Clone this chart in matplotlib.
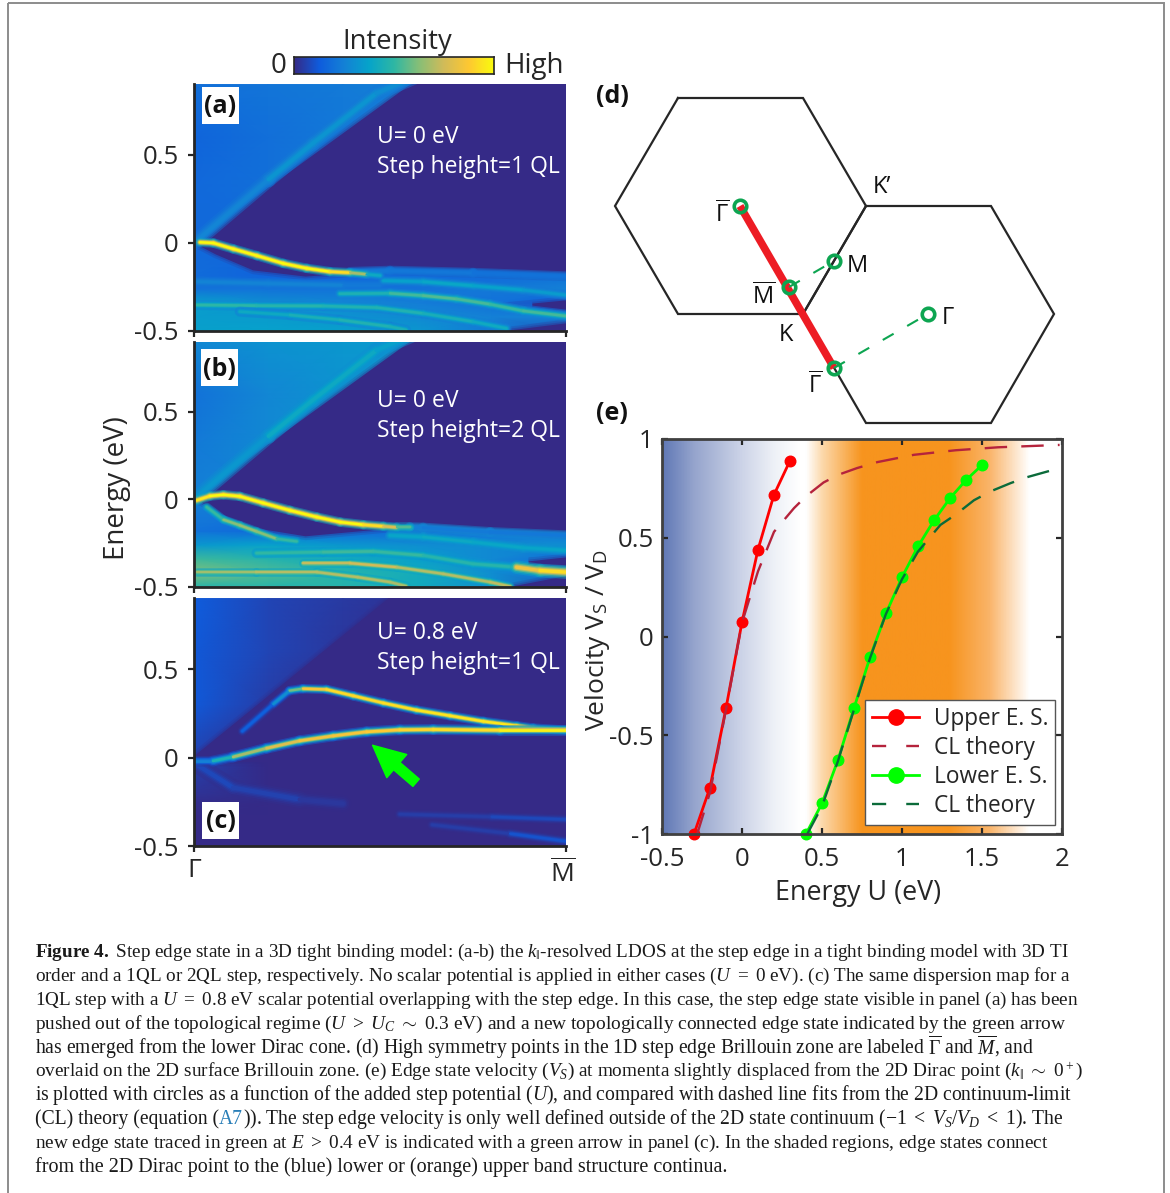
import numpy as np
import matplotlib
matplotlib.use('Agg')
import matplotlib.pyplot as plt
from matplotlib.collections import LineCollection
from matplotlib.colors import LinearSegmentedColormap
from matplotlib.lines import Line2D
from matplotlib.patches import Polygon, Rectangle

plt.rcParams['font.family'] = ['Open Sans', 'DejaVu Sans']
plt.rcParams['axes.unicode_minus'] = False
plt.rcParams['mathtext.fontset'] = 'custom'
plt.rcParams['mathtext.rm'] = 'Liberation Serif'
plt.rcParams['mathtext.it'] = 'Liberation Serif:italic'
plt.rcParams['mathtext.bf'] = 'Liberation Serif:bold'

W, H = 1170, 1193
DARK = '#262626'
NAVY = '#352a87'

parula_stops = ['#352a87', '#0f5cdd', '#1481d6', '#06a4ca', '#2eb7a4',
                '#87bf77', '#d1bb59', '#fec832', '#f9fb0e']
parula = LinearSegmentedColormap.from_list('parula', parula_stops)

# background of the maps: rows are energies, columns are momenta
grid_k = [0, 0.2, 0.4, 0.6, 0.8, 1]
grid_e = [-0.5, -0.42, -0.34, -0.26, -0.18, 0, 0.3, 0.6, 0.9]
grid_a = [[.36, .37, .36, .33, .22, .05],
          [.35, .34, .32, .28, .25, .25],
          [.36, .30, .27, .24, .20, .13],
          [.20, .20, .20, .20, .22, .25],
          [.18, .15, .15, .17, .17, .20],
          [.17, .17, .17, .17, .17, .17],
          [.17, .19, .24, .26, .26, .26],
          [.16, .19, .22, .25, .27, .27],
          [.19, .21, .23, .25, .27, .27]]
grid_b = [[.48, .48, .47, .42, .30, .05],
          [.62, .55, .48, .42, .30, .20],
          [.52, .47, .42, .36, .28, .18],
          [.33, .37, .33, .30, .28, .30],
          [.20, .17, .17, .18, .20, .20],
          [.25, .25, .25, .25, .25, .25],
          [.23, .28, .33, .33, .33, .33],
          [.20, .27, .31, .33, .33, .33],
          [.27, .31, .33, .33, .33, .33]]
grid_c = [[.00, .00, .00, .00, .00, .00],
          [.00, .00, .00, .00, .00, .00],
          [.00, .00, .00, .00, .00, .00],
          [.01, .00, .00, .00, .00, .00],
          [.03, .00, .00, .00, .00, .00],
          [.06, .00, .00, .00, .00, .00],
          [.12, .05, .00, .00, .00, .00],
          [.12, .07, .035, .00, .00, .00],
          [.13, .07, .04, .02, .00, .00]]

# bands of the maps: momentum, energy, intensity, width
bands_a = [
    ([0, .2, .32, .49, .6], [0, .36, .567, .85, .95], [.22, .31, .33, .31, .28], 4.5),
    ([.42, .527, .75, 1], [-.165, -.158, -.17, -.19], [.22, .23, .2, .2], 3),
    ([.01, .2, .4, .5], [-.22, -.23, -.24, -.24], [.25, .27, .25, .2], 3),
    ([.509, .616, .751, .885, 1], [-.214, -.22, -.243, -.267, -.296], [.33, .4, .38, .36, .32], 3),
    ([.392, .527, .616, .706, .796, .885, 1], [-.288, -.286, -.299, -.318, -.348, -.386, -.415],
     [.4, .5, .55, .55, .52, .5, .56], 3),
    ([.007, .168, .347, .491, .616, .75, .84], [-.352, -.356, -.358, -.367, -.40, -.447, -.485],
     [.48, .5, .45, .47, .45, .42, .4], 3),
    ([.123, .258, .392, .527, .57], [-.39, -.409, -.437, -.475, -.494], [.38, .43, .45, .47, .42], 3),
    ([.016, .052, .106, .169, .24, .303, .365, .42, .464, .5],
     [.004, 0, -.034, -.072, -.116, -.144, -.163, -.169, -.178, -.185],
     [1, 1, 1, 1, 1, 1, 1, .85, .5, .3], 2.8),
]
bands_b = [
    ([0, .2, .32, .49, .6], [0, .36, .567, .85, .95], [.28, .38, .42, .38, .34], 4.5),
    ([.58, .616, .796, 1], [-.16, -.162, -.187, -.206], [.25, .24, .22, .22], 3),
    ([.034, .079, .123, .168, .222, .276], [-.044, -.116, -.148, -.183, -.225, -.24],
     [.42, .6, .65, .65, .6, .42], 2.6),
    ([.527, .616, .75, .885, 1], [-.206, -.215, -.244, -.276, -.291], [.36, .4, .4, .38, .38], 3),
    ([.168, .347, .482, .616, .75, .867], [-.307, -.301, -.297, -.32, -.368, -.387],
     [.48, .52, .52, .5, .46, .5], 3),
    ([.293, .419, .545, .67, .796, .85], [-.364, -.364, -.387, -.425, -.472, -.497],
     [.68, .78, .72, .68, .72, .72], 2.6),
    ([.007, .168, .33, .44, .527, .57], [-.415, -.415, -.415, -.444, -.472, -.495],
     [.65, .68, .72, .68, .72, .65], 2.6),
    ([.867, .93, 1], [-.387, -.406, -.415], [.75, .9, .95], 4),
    ([.007, .043, .079, .123, .186, .258, .33, .393, .455, .509, .545, .58],
     [-.006, .019, .026, .017, -.021, -.063, -.101, -.13, -.145, -.154, -.16, -.16],
     [.9, 1, 1, 1, 1, 1, 1, 1, 1, .85, .7, .4], 2.8),
]
bands_c = [
    ([0, .105, .284, .4], [-.03, -.17, -.237, -.26], [.08, .07, .05, .02], 5),
    ([.553, .8, 1], [-.32, -.335, -.35], [.04, .06, .09], 3),
    ([.64, .85, 1], [-.38, -.43, -.473], [.03, .07, .14], 3),
    ([.13, .213, .257, .293, .356, .428, .509, .598, .688, .778, .867, .912, 1],
     [.15, .303, .379, .39, .386, .35, .309, .269, .237, .205, .18, .167, .155],
     [.08, .2, .4, .8, .92, .92, .92, .95, .95, .95, .95, 1, 1], 2.8),
    ([0, .051, .105, .195, .284, .374, .464, .553, .643, .822, 1],
     [-.019, -.019, .004, .053, .095, .123, .146, .157, .159, .155, .155],
     [.2, .3, .6, .75, .82, .85, .85, .9, .9, .95, 1], 3.2),
]
band_floor = [.2, .28, 0]

# dark areas without states: momentum, energy
dark_a = [([0, .589, 1.01, 1.01, .75, .5, .46, .3, .16, .06, .01], [0, .905, .905, -.19, -.17, -.153, -.16, -.185, -.15, -.06, -.005]),
          ([.91, 1.01, 1.01], [-.35, -.33, -.375]),
          ([.84, 1.01, 1.01], [-.505, -.46, -.505])]
dark_b = [([0, .589, 1.01, 1.01, .796, .58, .3, .17, .08, .02], [0, .905, .905, -.2, -.175, -.15, -.205, -.16, -.085, -.01]),
          ([.9, 1.01, 1.01], [-.36, -.335, -.375]),
          ([.85, 1.01, 1.01], [-.505, -.44, -.505])]
dark_c = [([0, .526, 1.01, 1.01, 0], [0, .9, .9, -.02, -.02])]

labels_abc = ['(a)', '(b)', '(c)']
notes = [('U= 0 eV', 'Step height=1 QL'), ('U= 0 eV', 'Step height=2 QL'), ('U= 0.8 eV', 'Step height=1 QL')]

# panel e
upper_x = [-.3, -.2, -.1, 0, .1, .2, .3]
upper_y = [-1, -.765, -.363, .073, .44, .718, .89]
lower_x = [.4, .5, .6, .7, .8, .9, 1, 1.1, 1.2, 1.3, 1.4, 1.5]
lower_y = [-1, -.845, -.625, -.363, -.105, .117, .30, .456, .588, .70, .792, .868]
cl_upper_x = [-.28, -.2, -.1, 0, .1, .2, .325, .4, .51, .606, .72, .846, 1.075, 1.335, 1.6, 1.985]
cl_upper_y = [-1, -.79, -.37, .07, .33, .53, .65, .71, .78, .82, .853, .883, .92, .943, .958, .97]
cl_lower_x = [.408, .5, .6, .7, .8, .9, 1, 1.1, 1.24, 1.335, 1.45, 1.554, 1.68, 1.783, 1.92]
cl_lower_y = [-1, -.86, -.63, -.37, -.11, .115, .29, .43, .565, .617, .69, .735, .777, .807, .838]
shade_x = [-.5, -.3, 0, .2, .36, .4, .5, .75, 1.3, 1.55, 1.8, 2]
shade_c = ['#6078b6', '#96a5cd', '#cdd4e8', '#eef1f7', '#ffffff', '#ffffff', '#fcd9ac', '#f7941e',
           '#f7941e', '#fab469', '#ffffff', '#ffffff']

# panel d, in picture pixels
hex_left_x = [678, 803, 866, 803, 678, 615, 678]
hex_left_y = [98, 98, 206, 314, 314, 206, 98]
hex_right_x = [866, 991, 1054, 991, 866, 803, 866]
hex_right_y = [206, 206, 314, 423, 423, 314, 206]
dots_x = [740, 789, 834, 834, 928]
dots_y = [206, 287, 261, 368, 314]
GAMMA_BAR = r'$\overline{\mathregular{\Gamma}}$'
M_BAR = r'$\overline{\mathregular{M}}$'
names = [(GAMMA_BAR, 722, 222, 'center'), (M_BAR, 764, 304, 'center'), ('M', 847, 272, 'left'),
         ("K\u2019", 873, 193, 'left'), ('K', 779, 341, 'left'), (GAMMA_BAR, 815, 393, 'center'),
         ('Γ', 942, 324, 'left')]

caption = [
    [r'$\mathbf{Figure\ 4.}$ Step edge state in a 3D tight binding model: (a-b) the $k_{\Vert}$-resolved LDOS at the step edge in a tight binding model with 3D TI'],
    [r'order and a 1QL or 2QL step, respectively. No scalar potential is applied in either cases ($U\ =\ 0$ eV). (c) The same dispersion map for a'],
    [r'1QL step with a $U\ =\ 0.8$ eV scalar potential overlapping with the step edge. In this case, the step edge state visible in panel (a) has been'],
    [r'pushed out of the topological regime ($U\ >\ U_C\ \sim\ 0.3$ eV) and a new topologically connected edge state indicated by the green arrow'],
    [r'has emerged from the lower Dirac cone. (d) High symmetry points in the 1D step edge Brillouin zone are labeled $\overline{\Gamma}$ and $\overline{M}$, and'],
    [r'overlaid on the 2D surface Brillouin zone. (e) Edge state velocity ($V_S$) at momenta slightly displaced from the 2D Dirac point ($k_{\Vert}\ \sim\ 0^+$)'],
    [r'is plotted with circles as a function of the added step potential ($U$), and compared with dashed line fits from the 2D continuum-limit'],
    [r'(CL) theory (equation (', 'A7', r')). The step edge velocity is only well defined outside of the 2D state continuum ($-1\ <\ V_S/V_D\ <\ 1$). The'],
    [r'new edge state traced in green at $E\ >\ 0.4$ eV is indicated with a green arrow in panel (c). In the shaded regions, edge states connect'],
    [r'from the 2D Dirac point to the (blue) lower or (orange) upper band structure continua.'],
]
caption_ends = [1075, 1077, 1084, 1070, 1036, 1088, 1072, 1065, 1054, 733]
caption_base = [957, 981, 1005, 1029, 1054, 1076, 1100, 1124, 1148, 1172]


def box(x0, y0, x1, y1):
    return [x0/W, 1-y1/H, (x1-x0)/W, (y1-y0)/H]


def draw_band(ax, k, e, v, lw, floor):
    pts = np.column_stack([k, e])
    segs = np.stack([pts[:-1], pts[1:]], axis=1)
    v = np.array(v)
    mid = (v[:-1]+v[1:])/2
    # wide pale layers below, the ridge on top
    for s, width, alpha in [(.2, 3.4, .45), (.4, 2.6, .55), (.6, 1.9, .7), (.8, 1.35, .85), (1, .85, 1)]:
        cols = parula(np.maximum(floor+(mid-floor)*s, 0))
        lc = LineCollection(segs, colors=cols, linewidths=lw*width*.72,
                            alpha=alpha, capstyle='round', zorder=4)
        ax.add_collection(lc)


def draw_map(rect, grid, darks, bands, ylim_top, floor):
    ax = fig.add_axes(box(*rect))
    ax.pcolormesh(grid_k, grid_e, np.array(grid), cmap=parula, vmin=0, vmax=1,
                  shading='gouraud', rasterized=True, zorder=1)
    for px, py in darks:
        xy = np.column_stack([px, py])
        ax.add_patch(Polygon(xy, closed=True, fc='none', ec=NAVY, lw=7, alpha=.18, zorder=2))
        ax.add_patch(Polygon(xy, closed=True, fc='none', ec=NAVY, lw=4, alpha=.3, zorder=2))
        ax.add_patch(Polygon(xy, closed=True, fc=NAVY, ec=NAVY, lw=1.5, alpha=1, zorder=2))
    for k, e, v, lw in bands:
        draw_band(ax, k, e, v, lw, floor)
    ax.set_xlim(0, 1)
    ax.set_ylim(-.5, ylim_top)
    ax.set_yticks([-.5, 0, .5])
    ax.set_yticklabels(['-0.5', '0', '0.5'])
    ax.set_xticks([0, 1])
    ax.set_xticklabels([])
    ax.tick_params(length=4, width=1.6, color=DARK, pad=7, labelsize=18.5, labelcolor=DARK)
    for s in ['top', 'right']:
        ax.spines[s].set_visible(False)
    for s in ['left', 'bottom']:
        ax.spines[s].set_linewidth(2)
        ax.spines[s].set_color(DARK)
        ax.spines[s].set_zorder(6)
    return ax


fig = plt.figure(figsize=(W/100, H/100), dpi=100)

ax_a = draw_map((194, 84, 566, 331), grid_a, dark_a, bands_a, .903, band_floor[0])
ax_b = draw_map((194, 342, 566, 587), grid_b, dark_b, bands_b, .897, band_floor[1])
ax_c = draw_map((194, 598, 566, 846), grid_c, dark_c, bands_c, .903, band_floor[2])
ax_c.annotate('', xy=(.48, .07), xytext=(.597, -.142),
              arrowprops=dict(width=7, headwidth=22, headlength=23, color='#00ff00', shrink=0), zorder=7)

# colour bar
ax_cb = fig.add_axes(box(294, 57, 494, 74))
ax_cb.imshow(np.linspace(0, 1, 256)[None, :], aspect='auto', cmap=parula)
ax_cb.set_xticks([])
ax_cb.set_yticks([])
for s in ax_cb.spines.values():
    s.set_linewidth(1.2)
    s.set_color(DARK)

# panel e
ax_e = fig.add_axes(box(662, 439, 1062, 834))
shade = LinearSegmentedColormap.from_list(
    'shade', [((x-shade_x[0])/(shade_x[-1]-shade_x[0]), c) for x, c in zip(shade_x, shade_c)])
ax_e.imshow(np.linspace(0, 1, 512)[None, :], aspect='auto', cmap=shade, extent=(-.5, 2, -1, 1), zorder=0)
ax_e.plot(upper_x, upper_y, '-o', color='#ff0000', lw=2, ms=7.6, clip_on=False, zorder=3)
ax_e.plot(cl_upper_x, cl_upper_y, color='#b5233c', lw=1.7, dashes=(9.5, 6), zorder=4)
ax_e.plot(lower_x, lower_y, '-o', color='#00ff00', lw=2, ms=7.6, clip_on=False, zorder=3)
ax_e.plot(cl_lower_x, cl_lower_y, color='#0b6b3a', lw=1.7, dashes=(9.5, 6), zorder=4)
ax_e.set_xlim(-.5, 2)
ax_e.set_ylim(-1, 1)
ax_e.set_xticks([-.5, 0, .5, 1, 1.5, 2])
ax_e.set_xticklabels(['-0.5', '0', '0.5', '1', '1.5', '2'])
ax_e.set_yticks([-1, -.5, 0, .5, 1])
ax_e.set_yticklabels(['-1', '-0.5', '0', '0.5', '1'])
ax_e.tick_params(direction='in', top=True, right=True, length=4, width=1.6, color=DARK,
                 labelsize=18.5, labelcolor=DARK)
ax_e.tick_params(axis='x', pad=9.5)
ax_e.tick_params(axis='y', pad=6)
for s in ax_e.spines.values():
    s.set_linewidth(2)
    s.set_color('#404040')
    s.set_zorder(6)
handles = [
    Line2D([], [], color='#ff0000', lw=2, marker='o', ms=7.6),
    Line2D([], [], color='#b5233c', lw=1.7, dashes=(6, 8.5)),
    Line2D([], [], color='#00ff00', lw=2, marker='o', ms=7.6),
    Line2D([], [], color='#0b6b3a', lw=1.7, dashes=(6, 8.5)),
]
leg = ax_e.legend(handles, ['Upper E. S.', 'CL theory', 'Lower E. S.', 'CL theory'],
                  loc='lower left', bbox_to_anchor=(.5075, .023), borderaxespad=0, fontsize=16.3,
                  markerscale=1.45, handlelength=2.1, handletextpad=.65, labelspacing=.22,
                  borderpad=.3, frameon=True, fancybox=False, framealpha=1, edgecolor='#555555')
leg.get_frame().set_linewidth(1)
leg.set_zorder(8)
for t in leg.get_texts():
    t.set_color(DARK)

# everything placed by picture pixels
ov = fig.add_axes([0, 0, 1, 1], zorder=20)
ov.set_xlim(0, W)
ov.set_ylim(H, 0)
ov.axis('off')
ov.patch.set_alpha(0)

ov.add_patch(Rectangle((8, 3), 1156, 1400, fc='none', ec='#8c8c8c', lw=1.4))

for lab, (x0, y0), yb in zip(labels_abc, [(202, 87), (201, 349), (202, 802)], [113, 376, 828]):
    ov.add_patch(Rectangle((x0, y0), 37, 37, fc='white', ec='none'))
    ov.text(x0+18.5, yb, lab, ha='center', va='baseline', fontsize=18, fontweight='bold', color='#111111')
for (l1, l2), y1 in zip(notes, [143, 407, 639]):
    ov.text(377, y1, l1, color='white', fontsize=16.5, va='baseline')
    ov.text(377, y1+30, l2, color='white', fontsize=16.5, va='baseline')

ov.text(397, 49, 'Intensity', ha='center', va='baseline', fontsize=19.7, color=DARK)
ov.text(287, 73, '0', ha='right', va='baseline', fontsize=20, color=DARK)
ov.text(504, 73, 'High', ha='left', va='baseline', fontsize=20, color=DARK)
ov.text(117, 488, 'Energy (eV)', rotation=90, ha='center', va='center', fontsize=20, color=DARK)
ov.text(194, 877, 'Γ', ha='center', va='baseline', fontsize=19, color=DARK)
ov.text(563, 882, M_BAR, ha='center', va='baseline', fontsize=19, color=DARK)
ov.text(597, 640, r'Velocity V$_{\mathregular{S}}$ / V$_{\mathregular{D}}$', rotation=90,
        ha='center', va='center', fontsize=19, color=DARK)
ov.text(858, 900, 'Energy U (eV)', ha='center', va='baseline', fontsize=19.4, color=DARK)
ov.text(596, 103, '(d)', fontsize=18, fontweight='bold', va='baseline', color='#111111')
ov.text(596, 420, '(e)', fontsize=18, fontweight='bold', va='baseline', color='#111111')

# panel d
ov.plot(hex_left_x, hex_left_y, color=DARK, lw=1.6, solid_joinstyle='miter')
ov.plot(hex_right_x, hex_right_y, color=DARK, lw=1.6, solid_joinstyle='miter')
ov.plot([dots_x[0], dots_x[3]], [dots_y[0], dots_y[3]], color='#ed1c24', lw=5.5, solid_capstyle='butt')
ov.plot([dots_x[1], dots_x[2]], [dots_y[1], dots_y[2]], color='#0da551', lw=1.5, dashes=(6, 7.5))
ov.plot([dots_x[3], dots_x[4]], [dots_y[3], dots_y[4]], color='#0da551', lw=1.5, dashes=(6, 7.5))
ov.plot(dots_x, dots_y, 'o', ms=9, mfc='none', mec='#0da551', mew=2.6)
for name, x, y, ha in names:
    ov.text(x, y, name, ha=ha, va='baseline', fontsize=17, color='#111111')

# caption, each line fitted to its measured length
fig.canvas.draw()
rend = fig.canvas.get_renderer()
for runs, end, yb in zip(caption, caption_ends, caption_base):
    size = 15.0
    pieces = [ov.text(35, yb, r, fontsize=size, va='baseline', color='#1a1a1a',
                      family=['Liberation Serif', 'DejaVu Sans']) for r in runs]
    total = sum(p.get_window_extent(rend).width for p in pieces)
    size = size*(end-35)/total
    x = 35
    for p, r in zip(pieces, runs):
        p.set_fontsize(size)
        p.set_x(x)
        if r == 'A7':
            p.set_color('#2a7fb8')
        x += p.get_window_extent(rend).width

fig.savefig('out.png', dpi=100)
